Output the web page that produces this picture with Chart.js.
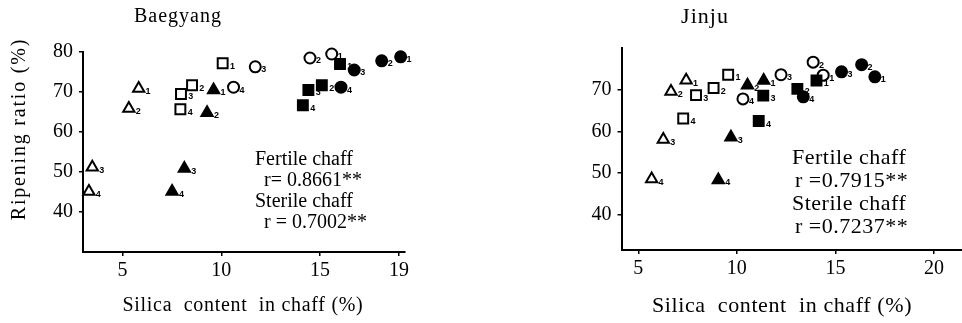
<!DOCTYPE html>
<html>
<head>
<meta charset="utf-8">
<script src="https://cdn.jsdelivr.net/npm/chart.js@4.4.1/dist/chart.umd.min.js"></script>
<style>
  html, body { margin: 0; padding: 0; background: #fff; }
  #wrap { position: relative; width: 962px; height: 323px; }
  .panel { position: absolute; top: 0; width: 481px; height: 323px; }
</style>
</head>
<body>
<div id="wrap">
  <div class="panel" style="left:0"><canvas id="c0" width="481" height="323"></canvas></div>
  <div class="panel" style="left:481px"><canvas id="c1" width="481" height="323"></canvas></div>
</div>
<script>
// ripening ratio (%) vs silica content in chaff (%), points numbered 1-4
const panelNames = ['Baegyang', 'Jinju'];
const pointNums = ['1', '2', '3', '4'];
const fertileR = ['0.8661', '0.7915'];
const sterileR = ['0.7002', '0.7237'];

// Baegyang  [silica, ripening]
const bgTriOpen    = [[5.82, 70.9], [5.32, 65.9], [3.47, 51.2], [3.30, 45.1]];
const bgTriFill    = [[9.61, 70.5], [9.28, 64.8], [8.13, 50.9], [7.51, 45.1]];
const bgSqOpen     = [[10.07, 77.2], [8.52, 71.7], [7.96, 69.5], [7.93, 65.7]];
const bgSqFill     = [[16.01, 77.0], [15.09, 71.7], [14.41, 70.5], [14.13, 66.7]];
const bgCircOpen   = [[15.59, 79.5], [14.49, 78.5], [11.72, 76.3], [10.62, 71.2]];
const bgCircFill   = [[19.08, 78.8], [18.12, 77.8], [16.73, 75.5], [16.06, 71.2]];

// Jinju
const jjTriOpen    = [[7.43, 72.3], [6.66, 69.6], [6.27, 58.1], [5.68, 48.6]];
const jjTriFill    = [[11.36, 72.2], [10.54, 71.1], [9.70, 58.6], [9.06, 48.4]];
const jjSqOpen     = [[9.56, 73.6], [8.82, 70.4], [7.93, 68.7], [7.28, 63.1]];
const jjSqFill     = [[14.04, 72.2], [13.07, 70.2], [11.34, 68.6], [11.11, 62.5]];
const jjCircOpen   = [[14.38, 73.5], [13.87, 76.6], [12.24, 73.6], [10.31, 67.8]];
const jjCircFill   = [[17.00, 73.1], [16.33, 76.0], [15.31, 74.3], [13.37, 68.3]];

const xTicks = [[5, 10, 15, 19], [5, 10, 15, 20]];
const yTicks = [[40, 50, 60, 70, 80], [40, 50, 60, 70]];

const serif = '"Liberation Serif", "DejaVu Serif", serif';

const makeSet = (pts, shape, filled, r) => ({
  data: pts.map(p => ({ x: p[0], y: p[1] })),
  pointStyle: shape,
  pointRadius: r,
  pointHoverRadius: r,
  pointBackgroundColor: filled ? '#000' : '#fff',
  pointBorderColor: '#000',
  pointBorderWidth: 2,
  showLine: false,
  clip: false
});

const buildSets = (tO, tF, sO, sF, cO, cF) => [
  makeSet(tO, 'triangle', false, 6.5),
  makeSet(tF, 'triangle', true, 6.5),
  makeSet(sO, 'rect', false, 7),
  makeSet(sF, 'rect', true, 7),
  makeSet(cO, 'circle', false, 5.5),
  makeSet(cF, 'circle', true, 5.5)
];

// little numbers beside each marker
const subLabels = {
  id: 'subLabels',
  afterDatasetsDraw(chart) {
    const ctx = chart.ctx;
    ctx.save();
    ctx.fillStyle = '#000';
    ctx.font = 'bold 9px "Liberation Sans", sans-serif';
    ctx.textBaseline = 'middle';
    chart.data.datasets.forEach((ds, i) => {
      chart.getDatasetMeta(i).data.forEach((el, j) => {
        ctx.fillText(pointNums[j], el.x + ds.pointRadius * 0.9 + 1, el.y + 3);
      });
    });
    ctx.restore();
  }
};

// panel name, axis titles and r values
const panelText = {
  id: 'panelText',
  afterDraw(chart, args, o) {
    const ctx = chart.ctx;
    ctx.save();
    ctx.fillStyle = '#000';
    ctx.textBaseline = 'middle';
    ctx.textAlign = 'center';
    ctx.font = o.size + 'px ' + serif;
    ctx.letterSpacing = '1px';
    ctx.fillText(o.title, o.titleX, 17);
    ctx.letterSpacing = o.xSpacing;
    ctx.fillText('Silica  content  in chaff (%)', o.xTitleX, 306);
    if (o.yTitle) {
      ctx.save();
      ctx.letterSpacing = '1.8px';
      ctx.translate(20, 129);
      ctx.rotate(-Math.PI / 2);
      ctx.fillText('Ripening ratio (%)', 0, 0);
      ctx.restore();
    }
    ctx.textAlign = 'left';
    ctx.letterSpacing = o.noteSpacing;
    ctx.fillText('Fertile chaff', o.noteX, o.noteY[0]);
    ctx.fillText(o.rPrefix[0] + o.r1 + '**', o.noteX + o.rIndent, o.noteY[1]);
    ctx.fillText('Sterile chaff', o.noteX, o.noteY[2]);
    ctx.fillText(o.rPrefix[1] + o.r2 + '**', o.noteX + o.rIndent, o.noteY[3]);
    ctx.restore();
  }
};

const axisStyle = {
  grid: { display: true, drawOnChartArea: false, drawTicks: true, tickLength: 4, color: '#000', lineWidth: 1.5 },
  border: { display: true, color: '#000', width: 2 }
};

const makeChart = (id, k, sets, xr, yr, pad, yW, xH, text) => new Chart(document.getElementById(id), {
  type: 'scatter',
  data: { datasets: sets },
  plugins: [subLabels, panelText],
  options: {
    responsive: false,
    animation: false,
    devicePixelRatio: 1,
    layout: { padding: pad, autoPadding: false },
    plugins: { legend: { display: false }, tooltip: { enabled: false }, panelText: text },
    scales: {
      x: {
        type: 'linear', min: xr[0], max: xr[1],
        afterBuildTicks: s => { s.ticks = xTicks[k].map(v => ({ value: v })); },
        afterFit: s => { s.height = xH; s.paddingLeft = 0; s.paddingRight = 0; },
        ticks: { color: '#000', font: { family: serif, size: 20 }, padding: 3, maxRotation: 0 },
        ...axisStyle
      },
      y: {
        type: 'linear', min: yr[0], max: yr[1],
        afterBuildTicks: s => { s.ticks = yTicks[k].map(v => ({ value: v })); },
        afterFit: s => { s.width = yW; s.paddingTop = 0; s.paddingBottom = 0; },
        ticks: { color: '#000', font: { family: serif, size: 20 }, padding: 6 },
        ...axisStyle
      }
    }
  }
});

makeChart('c0', 0,
  buildSets(bgTriOpen, bgTriFill, bgSqOpen, bgSqFill, bgCircOpen, bgCircFill),
  [3, 19.3], [30, 80],
  { left: 0, top: 52, right: 76, bottom: 0 }, 83, 71,
  { title: panelNames[0], size: 20, titleX: 178, xTitleX: 243, xSpacing: '0.7px', noteSpacing: '0px', yTitle: true,
    noteX: 255, noteY: [160, 181, 202, 223], rIndent: 9, rPrefix: ['r= ', 'r = '], r1: fertileR[0], r2: sterileR[0] });

makeChart('c1', 1,
  buildSets(jjTriOpen, jjTriFill, jjSqOpen, jjSqFill, jjCircOpen, jjCircFill),
  [4.15, 21.42], [31.6, 80],
  { left: 0, top: 48, right: 0, bottom: 0 }, 140.5, 73,
  { title: panelNames[1], size: 22, titleX: 224, xTitleX: 301, xSpacing: '0.6px', noteSpacing: '0.5px', yTitle: false,
    noteX: 311, noteY: [158, 181, 204, 227], rIndent: 3, rPrefix: ['r =', 'r ='], r1: fertileR[1], r2: sterileR[1] });
</script>
</body>
</html>
